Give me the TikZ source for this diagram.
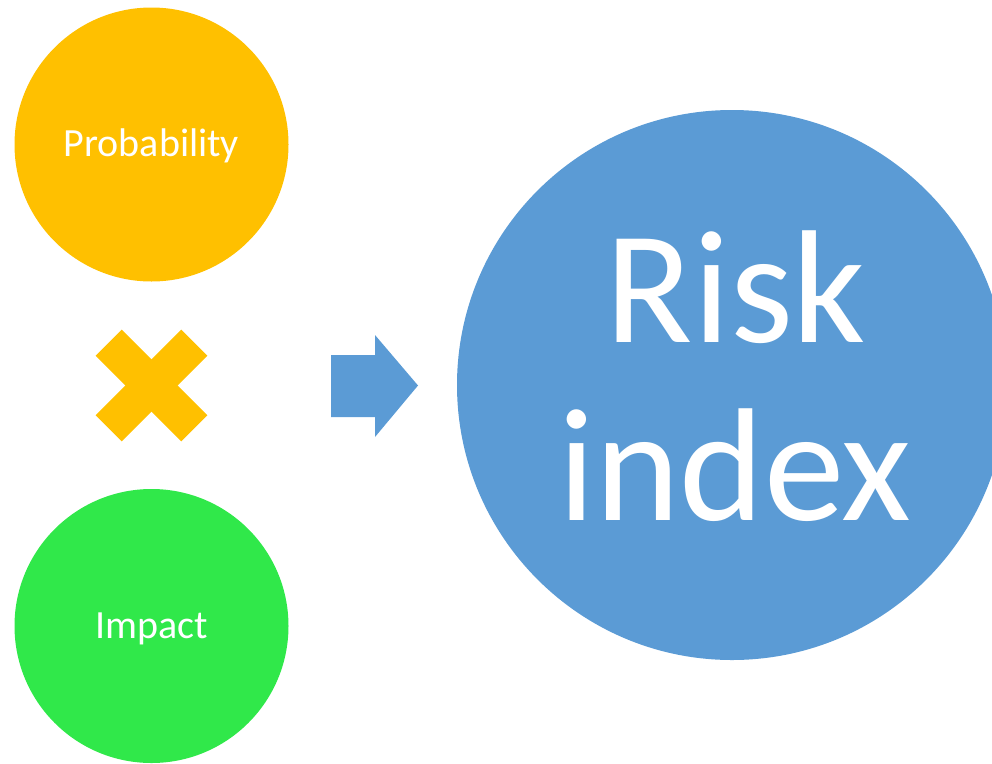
\documentclass[tikz,border=0pt]{standalone}
\usepackage{fontspec}
\setmainfont{Carlito}

\definecolor{probOrange}{HTML}{FFC000}
\definecolor{impactGreen}{HTML}{30E84A}
\definecolor{riskBlue}{HTML}{5B9BD5}

\begin{document}
\begin{tikzpicture}[
    x=1pt, y=-1pt,
    bubble/.style={circle, inner sep=0pt, minimum size=274pt},
    bigbubble/.style={circle, inner sep=0pt, minimum size=550pt, fill=riskBlue},
    xarm/.style={rectangle, inner sep=0pt, minimum width=121pt, minimum height=37pt, fill=probOrange},
    lbl/.style={anchor=base, inner sep=0pt, text=white, font=\fontsize{40}{48}\selectfont},
    biglbl/.style={anchor=base, inner sep=0pt, text=white, font=\fontsize{161}{178}\selectfont}
]
\useasboundingbox (0,0) rectangle (992,763);

% Factor Circles
\node[bubble, fill=probOrange] (prob) at (151.5, 144.5) {};
\node[bubble, fill=impactGreen] (impact) at (151.5, 626) {};
\node[lbl] (probtxt) at (151.5, 156) {Probability};
\node[lbl] (impacttxt) at (151.5, 638) {Impact};

% Times Sign
\node[xarm, rotate=45] (xarma) at (151.5, 385.5) {};
\node[xarm, rotate=-45] (xarmb) at (151.5, 385.5) {};

% Block Arrow
\fill[riskBlue] (331, 355) -- (375, 355) -- (375, 335) -- (418, 385.5)
    -- (375, 437) -- (375, 417) -- (331, 417) -- cycle;

% Result Circle
\node[bigbubble] (risk) at (732, 385) {};
\node[biglbl] (risktxt) at (736, 342) {Risk};
\node[biglbl] (indextxt) at (735, 520) {index};

\end{tikzpicture}
\end{document}
